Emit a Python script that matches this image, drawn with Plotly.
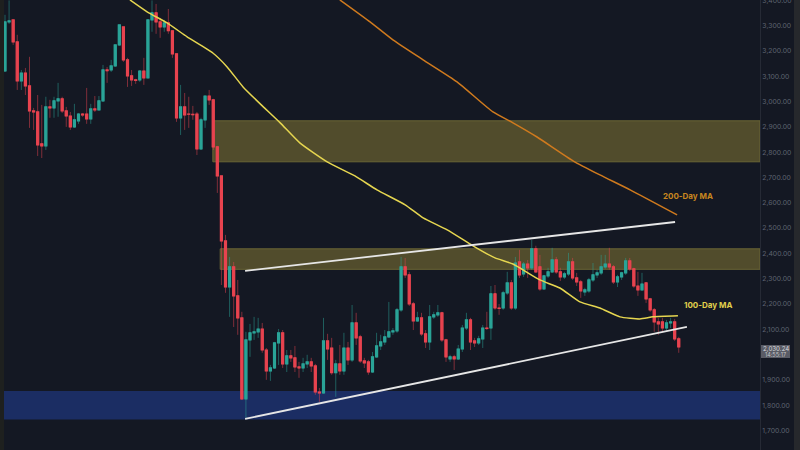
import plotly.graph_objects as go

# daily candles, prices
opens = [3121, 3315, 3323, 3236, 3082, 3113, 3062, 2963, 2959, 2833, 2825, 2979, 2975, 3003, 3011, 2963, 2943,
         2900, 2924, 2951, 2951, 2932, 2971, 2967, 3003, 3125, 3125, 3141, 3224, 3295, 3165, 3102, 3086, 3086,
         3121, 3094, 3323, 3351, 3315, 3295, 3311, 3280, 3189, 2936, 2979, 2951, 2950, 2951, 2813, 2928, 3022,
         3007, 2821, 2706, 2449, 2267, 2347, 2232, 2145, 1825, 2058, 2086, 2090, 2101, 2018, 1935, 1947, 2046,
         2086, 1963, 1995, 1987, 1951, 1947, 1963, 1971, 1955, 1852, 1848, 2054, 2026, 1928, 1963, 1935, 2026,
         1979, 2125, 2070, 1975, 1971, 1931, 1991, 2034, 2050, 2070, 2090, 2094, 2177, 2347, 2315, 2200, 2133,
         2145, 2082, 2050, 2149, 2157, 2165, 2058, 1983, 1991, 1983, 2022, 2105, 2137, 2054, 2046, 2062, 2105,
         2105, 2240, 2184, 2184, 2244, 2283, 2184, 2366, 2319, 2358, 2343, 2418, 2347, 2260, 2311, 2327, 2374,
         2327, 2307, 2319, 2366, 2303, 2287, 2248, 2252, 2295, 2315, 2323, 2347, 2358, 2347, 2287, 2307, 2323,
         2370, 2339, 2271, 2256, 2283, 2220, 2177, 2129, 2129, 2105, 2125, 2129, 2062]
highs = [3343, 3400, 3323, 3264, 3125, 3133, 3177, 2975, 3026, 2987, 3019, 3007, 3019, 3074, 3019, 2979, 2959,
         2991, 2955, 2955, 3054, 2991, 3022, 3022, 3145, 3137, 3165, 3224, 3303, 3295, 3173, 3125, 3090, 3125,
         3173, 3323, 3400, 3386, 3331, 3323, 3366, 3283, 3189, 3066, 3034, 3019, 2983, 2959, 2936, 3022, 3046,
         3011, 2825, 2706, 2473, 2386, 2366, 2295, 2169, 2090, 2121, 2149, 2145, 2125, 2026, 1959, 2050, 2101,
         2097, 2018, 2018, 2034, 1971, 1987, 1999, 1987, 1963, 1868, 2145, 2082, 2066, 1979, 2038, 2086, 2050,
         2196, 2165, 2078, 1987, 1979, 2010, 2086, 2078, 2097, 2208, 2105, 2184, 2386, 2382, 2327, 2208, 2169,
         2165, 2097, 2196, 2169, 2196, 2169, 2062, 1999, 1999, 2038, 2117, 2165, 2145, 2066, 2074, 2117, 2169,
         2271, 2275, 2200, 2252, 2327, 2295, 2386, 2414, 2366, 2374, 2453, 2430, 2394, 2315, 2343, 2422, 2386,
         2343, 2327, 2402, 2382, 2323, 2295, 2264, 2303, 2362, 2335, 2394, 2394, 2422, 2354, 2315, 2327, 2382,
         2382, 2343, 2327, 2323, 2287, 2224, 2184, 2145, 2145, 2137, 2145, 2141, 2070]
lows = [3117, 3307, 3224, 3046, 3046, 3026, 2896, 2888, 2785, 2777, 2809, 2936, 2936, 2940, 2955, 2900, 2888,
        2896, 2912, 2940, 2912, 2912, 2959, 2967, 2999, 3074, 3117, 3137, 3220, 3157, 3058, 3062, 3070, 3078,
        3066, 3094, 3276, 3268, 3252, 3276, 3268, 3173, 2920, 2868, 2888, 2896, 2928, 2789, 2809, 2896, 2987,
        2809, 2639, 2275, 2244, 2149, 2109, 2078, 1821, 1750, 1991, 2058, 2066, 2007, 1900, 1896, 1943, 1959,
        1947, 1931, 1971, 1931, 1908, 1931, 1947, 1931, 1841, 1813, 1845, 1979, 1920, 1833, 1920, 1920, 1959,
        1971, 2038, 1967, 1947, 1920, 1927, 1987, 2018, 2038, 2066, 2078, 2086, 2169, 2303, 2192, 2097, 2129,
        2074, 2026, 2018, 2141, 2149, 2050, 1971, 1971, 1939, 1979, 2010, 2097, 2018, 2030, 2038, 2026, 2097,
        2058, 2177, 2157, 2177, 2236, 2177, 2177, 2303, 2307, 2303, 2335, 2323, 2252, 2256, 2303, 2323, 2319,
        2291, 2299, 2311, 2295, 2271, 2224, 2232, 2244, 2287, 2303, 2315, 2339, 2335, 2279, 2267, 2295, 2315,
        2331, 2264, 2232, 2252, 2204, 2169, 2090, 2078, 2090, 2094, 2105, 2054, 2007]
closes = [3315, 3319, 3236, 3082, 3113, 3062, 2963, 2959, 2829, 2825, 2979, 2975, 3003, 3011, 2963, 2943, 2900,
          2928, 2951, 2947, 2932, 2971, 2967, 3003, 3125, 3122, 3141, 3224, 3303, 3165, 3102, 3086, 3084, 3121,
          3094, 3323, 3351, 3315, 3295, 3311, 3280, 3189, 2936, 2979, 2947, 2950, 2948, 2813, 2928, 3022, 3007,
          2821, 2706, 2449, 2267, 2347, 2232, 2145, 1825, 2058, 2086, 2090, 2101, 2018, 1935, 1947, 2046, 2086,
          1963, 1995, 1987, 1951, 1947, 1963, 1971, 1955, 1852, 1848, 2054, 2022, 1928, 1963, 1935, 2026, 1979,
          2125, 2066, 1975, 1967, 1931, 1991, 2034, 2050, 2070, 2090, 2094, 2177, 2347, 2315, 2200, 2133, 2145,
          2082, 2050, 2149, 2157, 2165, 2058, 1991, 1991, 1983, 2022, 2105, 2137, 2050, 2046, 2062, 2105, 2103,
          2240, 2184, 2182, 2244, 2283, 2184, 2362, 2315, 2358, 2343, 2418, 2327, 2260, 2311, 2327, 2374, 2327,
          2307, 2319, 2366, 2303, 2287, 2252, 2256, 2295, 2315, 2323, 2347, 2358, 2347, 2287, 2307, 2323, 2370,
          2339, 2271, 2256, 2279, 2220, 2177, 2129, 2121, 2105, 2125, 2129, 2062, 2030]
days = list(range(len(closes)))

# moving averages
ma100_days = [30.6, 34.8, 39.7, 44.6, 50.9, 54.4, 58.3, 62.5, 67.4, 72.2, 78.9, 85.7, 91.1, 98, 102.4, 108.3,
              114.6, 120, 124.4, 131, 135.9, 140.8, 145.7, 150.6, 155.5, 158.7, 164.8]
ma100 = [3402, 3355, 3311, 3256, 3192, 3137, 3058, 2991, 2916, 2837, 2762, 2706, 2651, 2592, 2540, 2493,
         2430, 2382, 2358, 2295, 2263, 2208, 2184, 2149, 2141, 2149, 2153]
ma200_days = [82, 89.4, 95, 102.4, 110.7, 119.5, 124.4, 130.3, 139.1, 145.7, 153.1, 164.6]
ma200 = [3402, 3315, 3244, 3165, 3078, 2959, 2916, 2860, 2766, 2710, 2651, 2552]

# hand drawn trendlines
upper_days = [58.8, 164.1]
upper_prices = [2331, 2524]
lower_days = [58.8, 167]
lower_prices = [1746, 2109]

# supply and demand zones
zone_top_prices = [2762, 2924]
zone_mid_prices = [2337, 2418]
zone_low_prices = [1743, 1856]

# 2,000 sits behind the last price tag in the screenshot
tick_prices = [p for p in range(1700, 3401, 100) if p != 2000]
tick_labels = [f"{p:,}.00" for p in tick_prices]

BG = "#141823"
GREEN = "#2aa498"
RED = "#e8434f"
XMAX = 184.9
XMIN = -0.245

fig = go.Figure()

# wicks are fainter than the bodies, so draw them as a see-through layer first
fig.add_trace(go.Candlestick(
    x=days, open=opens, high=highs, low=lows, close=closes,
    whiskerwidth=0, opacity=0.5,
    increasing=dict(line=dict(color=GREEN, width=1), fillcolor=GREEN),
    decreasing=dict(line=dict(color=RED, width=1), fillcolor=RED),
    showlegend=False,
))
fig.add_trace(go.Candlestick(
    x=days, open=opens, close=closes,
    high=[max(o, c) for o, c in zip(opens, closes)],
    low=[min(o, c) for o, c in zip(opens, closes)],
    whiskerwidth=0,
    increasing=dict(line=dict(color=GREEN, width=1.2), fillcolor=GREEN),
    decreasing=dict(line=dict(color=RED, width=1.2), fillcolor=RED),
    showlegend=False,
))

fig.add_trace(go.Scatter(x=ma100_days, y=ma100, mode="lines", showlegend=False,
                         line=dict(color="#e6d650", width=1.5, shape="spline", smoothing=0.5)))
fig.add_trace(go.Scatter(x=ma200_days, y=ma200, mode="lines", showlegend=False,
                         line=dict(color="#cf7a1e", width=1.5, shape="spline", smoothing=0.5)))
fig.add_trace(go.Scatter(x=upper_days, y=upper_prices, mode="lines", showlegend=False,
                         line=dict(color="#e6e6e6", width=1.8)))
fig.add_trace(go.Scatter(x=lower_days, y=lower_prices, mode="lines", showlegend=False,
                         line=dict(color="#e6e6e6", width=1.8)))

# zones
fig.add_shape(type="rect", x0=50.9, x1=XMAX, y0=zone_top_prices[0], y1=zone_top_prices[1], layer="below",
              fillcolor="#514c2c", line=dict(color="#6a6535", width=1))
fig.add_shape(type="rect", x0=52.7, x1=XMAX, y0=zone_mid_prices[0], y1=zone_mid_prices[1], layer="below",
              fillcolor="#514c2c", line=dict(color="#6a6535", width=1))
fig.add_shape(type="rect", x0=XMIN, x1=XMAX, y0=zone_low_prices[0], y1=zone_low_prices[1], layer="below",
              fillcolor="#1b2d63", line=dict(width=0))

# dark strips at the screenshot edges
fig.add_shape(type="rect", xref="paper", yref="paper", x0=-4 / 756, x1=0, y0=0, y1=1,
              fillcolor="#1e201f", line=dict(width=0))
fig.add_shape(type="rect", xref="paper", yref="paper", x0=790 / 756, x1=796 / 756, y0=0, y1=1,
              fillcolor="#26282c", line=dict(width=0))

# last price tag
fig.add_shape(type="rect", xref="paper", yref="paper", x0=757 / 756, x1=786 / 756,
              y0=1 - 358 / 450, y1=1 - 345 / 450, fillcolor="#5a5c66", line=dict(width=0))
fig.add_annotation(xref="paper", yref="paper", x=771.5 / 756, y=1 - 348 / 450, text="2,030.24", showarrow=False,
                   xanchor="center", yanchor="middle", borderpad=0,
                   font=dict(family="Inter", size=6.2, color="#d8d9dd"))
fig.add_annotation(xref="paper", yref="paper", x=771.5 / 756, y=1 - 354.5 / 450, text="14:55:17", showarrow=False,
                   xanchor="center", yanchor="middle", borderpad=0,
                   font=dict(family="Inter", size=5.5, color="#c4c5ca"))

fig.add_annotation(x=167.2, y=2627, text="<b>200-Day MA</b>", showarrow=False,
                   font=dict(family="Inter", size=8, color="#c8861f"))
fig.add_annotation(x=172.2, y=2196, text="<b>100-Day MA</b>", showarrow=False,
                   font=dict(family="Inter", size=8, color="#e0d04c"))

fig.update_layout(
    width=800, height=450,
    margin=dict(l=4, r=40, t=0, b=0),
    paper_bgcolor=BG, plot_bgcolor=BG,
    showlegend=False,
    xaxis=dict(range=[XMIN, XMAX], visible=False, rangeslider=dict(visible=False), fixedrange=True),
    yaxis=dict(range=[1622.7, 3401.6], side="right", tickvals=tick_prices, ticktext=tick_labels,
               ticklabeloverflow="allow", automargin=False,
               showgrid=False, zeroline=False, showline=True, linecolor="#262a35", linewidth=1, ticks="",
               tickfont=dict(family="Inter", size=6.8, color="#5e6370"), fixedrange=True),
)

# page has a default body margin, drop it so the chart fills the window
fig.write_html("out.html", config={"displayModeBar": False},
               post_script="document.body.style.margin='0';")
